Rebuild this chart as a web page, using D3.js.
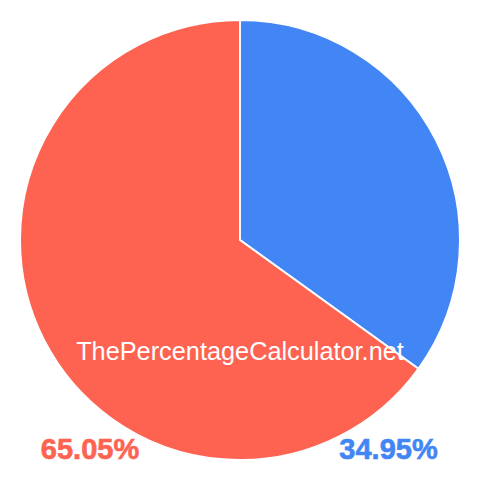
<!DOCTYPE html>
<html>
<head>
<meta charset="utf-8">
<script src="https://cdn.jsdelivr.net/npm/d3@7"></script>
<style>
  html, body { margin: 0; padding: 0; background: #fff; }
  svg { display: block; }
</style>
</head>
<body>
<div id="chart"></div>
<script>
// Slice data
const labels = ['34.95%', '65.05%'];
const values = [34.95, 65.05];
const colors = ['#4285f4', '#fe6351'];
const watermark = 'ThePercentageCalculator.net';

const width = 480, height = 480;
const cx = 240, cy = 240, radius = 220;

const svg = d3.select('#chart')
    .append('svg')
    .attr('width', width)
    .attr('height', height);

const pie = d3.pie()
    .sort(null)
    .value(d => d);

const arc = d3.arc()
    .innerRadius(0)
    .outerRadius(radius);

const g = svg.append('g')
    .attr('transform', `translate(${cx},${cy})`);

g.selectAll('path')
    .data(pie(values))
    .enter().append('path')
    .attr('d', arc)
    .attr('fill', (d, i) => colors[i])
    .attr('stroke', '#fff')
    .attr('stroke-width', 2);

// Watermark text
svg.append('text')
    .attr('x', 240)
    .attr('y', 360)
    .attr('text-anchor', 'middle')
    .attr('fill', '#fff')
    .attr('font-family', 'Liberation Sans, Arial, sans-serif')
    .attr('font-size', '25.3px')
    .text(watermark);

// Percentage labels below the pie
const labelX = d3.scalePoint()
    .domain(['65.05%', '34.95%'])
    .range([90, 388.5]);

svg.selectAll('text.pct')
    .data(labels)
    .enter().append('text')
    .attr('class', 'pct')
    .attr('x', d => labelX(d))
    .attr('y', 459)
    .attr('text-anchor', 'middle')
    .attr('fill', (d, i) => colors[i])
    .attr('stroke', (d, i) => colors[i])
    .attr('stroke-width', 0.6)
    .attr('font-family', 'Liberation Sans, Arial, sans-serif')
    .attr('font-weight', 'bold')
    .attr('font-size', '29px')
    .text(d => d);
</script>
</body>
</html>
